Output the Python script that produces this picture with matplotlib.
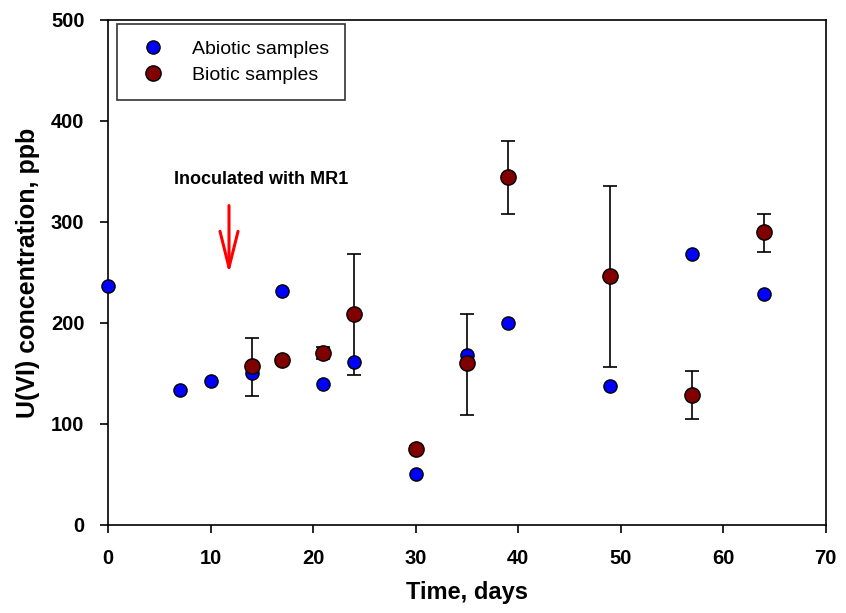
import matplotlib.pyplot as plt
import numpy as np

plt.rcParams['font.family'] = ['Liberation Sans', 'DejaVu Sans']

# abiotic controls
abio_days = [0, 7, 10, 14, 17, 21, 24, 30, 35, 39, 49, 57, 64]
abio_u = [237, 134, 143, 150, 232, 140, 161, 50, 168, 200, 138, 268, 229]

# inoculated samples, with lower/upper error
bio_days = [14, 17, 21, 24, 30, 35, 39, 49, 57, 64]
bio_u = [157, 163, 170, 209, 75, 160, 345, 247, 129, 290]
bio_lo = [29, 3, 6, 61, 3, 51, 37, 91, 24, 20]
bio_hi = [28, 3, 6, 59, 3, 49, 35, 89, 23, 18]

fig = plt.figure(figsize=(8.46, 6.13), dpi=100)
ax = fig.add_axes([0.1277, 0.1436, 0.8483, 0.8238])

ax.errorbar(bio_days, bio_u, yerr=[bio_lo, bio_hi], fmt='none', ecolor='black',
            elinewidth=1.2, capsize=5, capthick=1.2, zorder=2)
ax.plot(abio_days, abio_u, 'o', color='blue', markeredgecolor='black',
        markeredgewidth=1, markersize=9.5, label='Abiotic samples', zorder=3,
        clip_on=False)
ax.plot(bio_days, bio_u, 'o', color='#800000', markeredgecolor='black',
        markeredgewidth=1, markersize=11, label='Biotic samples', zorder=4)

ax.annotate('', xy=(11.8, 246), xytext=(11.8, 319),
            arrowprops=dict(arrowstyle='->,head_length=2.6,head_width=0.65',
                            color='red', lw=2.2))
ax.text(14.9, 342, 'Inoculated with MR1', ha='center', va='center',
        fontsize=13, fontweight='bold')

ax.set_xlim(0, 70)
ax.set_ylim(0, 500)
ax.set_xticks(np.arange(0, 71, 10))
ax.set_yticks(np.arange(0, 501, 100))
ax.tick_params(direction='out', length=6, width=1.2, labelsize=14.5, pad=11)
for lab in ax.get_xticklabels() + ax.get_yticklabels():
    lab.set_fontweight('bold')
for sp in ax.spines.values():
    sp.set_linewidth(1.2)

ax.set_xlabel('Time, days', fontsize=17, fontweight='bold', labelpad=10)
ax.set_ylabel('U(VI) concentration, ppb', fontsize=18, fontweight='bold', labelpad=8)

leg = ax.legend(loc='upper left', bbox_to_anchor=(0.012, 0.992), fontsize=14,
                frameon=True, fancybox=False, edgecolor='black',
                handletextpad=1.0, borderpad=0.85, labelspacing=0.4,
                borderaxespad=0)
leg.get_frame().set_linewidth(1.2)

fig.savefig('out.png', dpi=100)
